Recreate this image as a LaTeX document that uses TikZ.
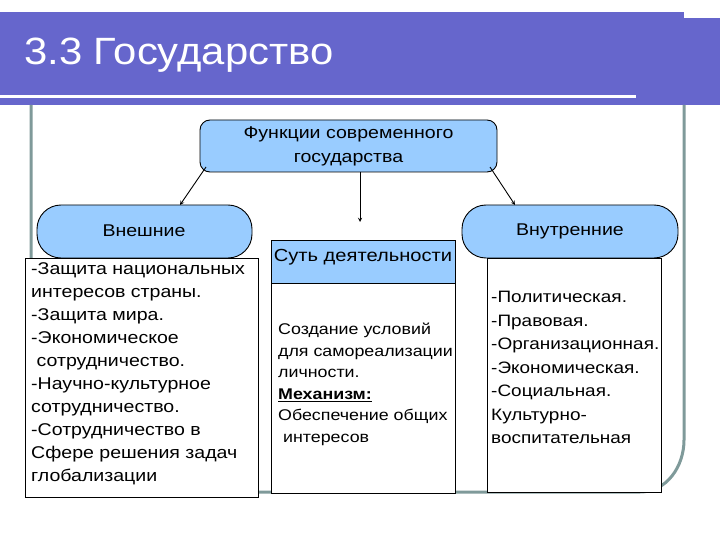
\documentclass[tikz,border=0pt]{standalone}
\usepackage{fontspec}
\setmainfont{Liberation Sans}
\newfontfamily\nf[FakeStretch=1.15]{Liberation Sans}
\newfontfamily\tf[FakeStretch=1.1]{Liberation Sans}
\begin{document}
\begin{tikzpicture}[x=1pt,y=-1pt,
 bl/.style={fill=blueL,draw=black,line width=0.9pt},
 wb/.style={fill=white,draw=black,line width=0.9pt},
 txt/.style={anchor=west,align=left,inner sep=0pt},
 arr/.style={-stealth,line width=0.9pt}]
\definecolor{blueL}{HTML}{99CCFF}
\definecolor{barB}{HTML}{6666CC}
\definecolor{frameC}{HTML}{7F9A9A}
\useasboundingbox (0,0) rectangle (720,540);
\fill[barB] (0,12) rectangle (720,105);
\fill[white] (684,12) rectangle (720,18);
\draw[white,line width=3pt] (0,97) -- (636,97);
\node[anchor=west,text=white,font=\tf\fontsize{38}{44}\selectfont,inner sep=0pt] (title) at (24,55) {3.3 Государство};
\draw[frameC,line width=3pt] (31,105) -- (31,492) -- (640,492) to[out=0,in=-90] (684,440) -- (684,105);
% top
\draw[bl,rounded corners=10pt] (200,120) rectangle (497,172);
\node[font=\nf\fontsize{17}{24}\selectfont,align=center] (top) at (348.5,146) {Функции современного\\государства};
\coordinate (tl) at (206,167); \coordinate (tr) at (490,167); \coordinate (tc) at (360,172);
% left
\draw[bl,rounded corners=24pt] (37,205) rectangle (252,258);
\node[font=\nf\fontsize{17}{20}\selectfont] (ext) at (144,231) {Внешние};
\coordinate (el) at (180,205);
\draw[wb] (25,258) rectangle (258,497);
\node[txt,anchor=north west,font=\nf\fontsize{17}{23}\selectfont] (lt) at (31,262) {-Защита национальных\\интересов страны.\\-Защита мира.\\-Экономическое\\\ сотрудничество.\\-Научно-культурное\\сотрудничество.\\-Сотрудничество в\\Сфере решения задач\\глобализации};
% center
\draw[wb] (271,283) rectangle (455,493);
\draw[bl] (271,240) rectangle (455,283);
\node[font=\nf\fontsize{17.5}{20}\selectfont] (ess) at (363,257) {Суть деятельности};
\coordinate (ec) at (360,222);
\node[txt,anchor=north west,font=\nf\fontsize{15.5}{21.5}\selectfont] (ct) at (278,323) {Создание условий\\для самореализации\\личности.\\\textbf{\underline{Механизм:}}\\Обеспечение общих\\\ интересов};
% right
\draw[bl,rounded corners=24pt] (462,205) rectangle (678,258);
\node[font=\nf\fontsize{17}{20}\selectfont] (int) at (570,231) {Внутренние};
\coordinate (er) at (515,205);
\draw[wb] (487,258) rectangle (661,492);
\node[txt,anchor=north west,font=\nf\fontsize{16.5}{23.5}\selectfont] (rt) at (491,291) {-Политическая.\\-Правовая.\\-Организационная.\\-Экономическая.\\-Социальная.\\Культурно-\\воспитательная};
\draw[arr] (tl) -- (el);
\draw[arr] (tc) -- (ec);
\draw[arr] (tr) -- (er);
\end{tikzpicture}
\end{document}
